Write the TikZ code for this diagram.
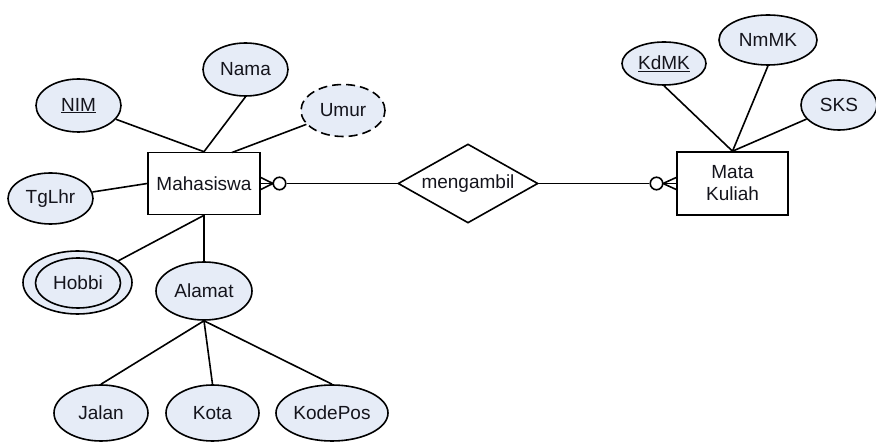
\documentclass[tikz,border=0pt]{standalone}
\usepackage{fontspec}
\setmainfont{Liberation Sans}
\usetikzlibrary{shapes.geometric}
\definecolor{attrfill}{RGB}{230,236,247}
\definecolor{ink}{RGB}{20,20,28}
\tikzset{
  erline/.style={line width=1.6pt, draw=black},
  entity/.style={erline, rectangle, fill=white, inner sep=0pt, text=ink,
                 font=\fontsize{19}{22}\selectfont, align=center},
  attr/.style={erline, ellipse, fill=attrfill, inner sep=0pt, text=ink,
               font=\fontsize{19}{22}\selectfont},
  derived/.style={attr, dash pattern=on 9pt off 5pt},
  relation/.style={erline, diamond, aspect=1.77, fill=white, inner sep=0pt,
                   text=ink, font=\fontsize{19}{22}\selectfont},
  optring/.style={erline, circle, fill=white, inner sep=0pt, minimum size=12.5pt}
}
\begin{document}
\begin{tikzpicture}[x=1pt,y=-1pt]
\useasboundingbox (0,0) rectangle (876,443);

% entities and relationship
\node[entity, minimum width=112pt, minimum height=62pt] (maha) at (204,183.5) {Mahasiswa};
\node[entity, minimum width=111pt, minimum height=63pt] (mk) at (732.5,183.5) {Mata\\Kuliah};
\node[relation, minimum width=140pt, minimum height=79pt] (rel) at (468,183.5) {mengambil};

% attributes of Mahasiswa
\node[attr, minimum width=85pt, minimum height=53pt] (nim) at (78.5,105.5) {\underline{NIM}};
\node[attr, minimum width=85pt, minimum height=53pt] (nama) at (245.5,69.5) {Nama};
\node[derived, minimum width=84pt, minimum height=52pt] (umur) at (343,110.5) {Umur};
\node[attr, minimum width=85pt, minimum height=51pt] (tglhr) at (50.5,198.5) {TgLhr};
\node[attr, minimum width=109pt, minimum height=63pt] (hobbiOuter) at (77.5,282.5) {};
\node[attr, minimum width=85pt, minimum height=50pt] (hobbi) at (78,283) {Hobbi};
\node[attr, minimum width=96pt, minimum height=58pt] (alamat) at (204,291) {Alamat};
\node[attr, minimum width=94pt, minimum height=56pt] (jalan) at (101,413) {Jalan};
\node[attr, minimum width=93pt, minimum height=56pt] (kota) at (212.5,413) {Kota};
\node[attr, minimum width=112pt, minimum height=56pt] (kodepos) at (332,413) {KodePos};

% attributes of Mata Kuliah
\node[attr, minimum width=84pt, minimum height=43pt] (kdmk) at (664,63.5) {\underline{KdMK}};
\node[attr, minimum width=98pt, minimum height=50pt] (nmmk) at (768,40) {NmMK};
\node[attr, minimum width=76pt, minimum height=50pt] (sks) at (839,105) {SKS};

% attribute links
\coordinate (mahaTopR) at (232,152.5);
\draw[erline] (nim) -- (maha.north);
\draw[erline] (nama.south) -- (maha.north);
\draw[erline] (umur) -- (mahaTopR);
\draw[erline] (tglhr) -- (maha.west);
\draw[erline] (hobbiOuter) -- (maha.south);
\draw[erline] (alamat) -- (maha.south);
\draw[erline] (alamat.south) -- (jalan.north);
\draw[erline] (alamat.south) -- (kota.north);
\draw[erline] (alamat.south) -- (kodepos.north);
\draw[erline] (kdmk.south) -- (mk.north);
\draw[erline] (nmmk.south) -- (mk.north);
\draw[erline] (sks) -- (mk.north);

% zero-or-many connector on the Mahasiswa side
\node[optring] (ringL) at (279.5,183.5) {};
\coordinate (footL) at (273,183.5);
\draw[erline] (ringL) -- (rel.west);
\draw[erline] (maha.east) ++(0,-6) -- (footL);
\draw[erline] (maha.east) ++(0,6) -- (footL);
\draw[erline] (maha.east) -- (footL);

% zero-or-many connector on the Mata Kuliah side
\node[optring] (ringR) at (656.5,183.5) {};
\coordinate (footR) at (663,183.5);
\draw[erline] (rel.east) -- (ringR);
\draw[erline] (mk.west) ++(0,-6) -- (footR);
\draw[erline] (mk.west) ++(0,6) -- (footR);
\draw[erline] (mk.west) -- (footR);
\end{tikzpicture}
\end{document}
